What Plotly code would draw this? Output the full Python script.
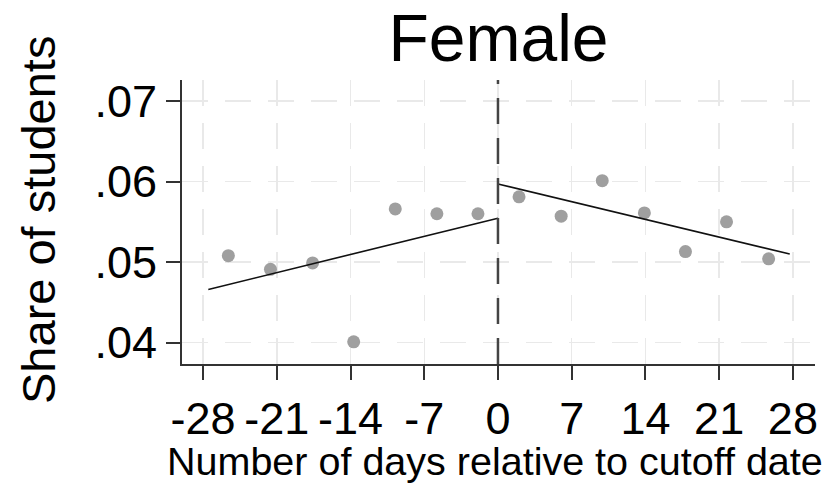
import plotly.graph_objects as go

# ---- data ----
days_left = [-25.6, -21.6, -17.6, -13.7, -9.75, -5.8, -1.9]
share_left = [0.0508, 0.0491, 0.0499, 0.0401, 0.0566, 0.0560, 0.0560]
days_right = [2.0, 6.0, 9.9, 13.9, 17.8, 21.7, 25.7]
share_right = [0.0581, 0.0557, 0.0601, 0.0561, 0.0513, 0.0550, 0.0504]

fit_left_x = [-27.5, 0]
fit_left_y = [0.0466, 0.05545]
fit_right_x = [0, 27.7]
fit_right_y = [0.0597, 0.0510]

cutoff = 0
x_ticks = [-28, -21, -14, -7, 0, 7, 14, 21, 28]
x_ticklabels = ["-28", "-21", "-14", "-7", "0", "7", "14", "21", "28"]
y_ticks = [0.04, 0.05, 0.06, 0.07]
y_ticklabels = [".04", ".05", ".06", ".07"]

FONT = "Liberation Sans, Arial, sans-serif"
MARK = "#9f9f9f"
GRID = "#e9e9e9"
AXIS = "#333333"

fig = go.Figure()
fig.add_trace(go.Scatter(x=days_left + days_right, y=share_left + share_right,
                         mode="markers", marker=dict(color=MARK, size=13, line=dict(width=0)),
                         showlegend=False, hoverinfo="skip"))
fig.add_trace(go.Scatter(x=fit_left_x, y=fit_left_y, mode="lines",
                         line=dict(color="#111111", width=1.6), showlegend=False))
fig.add_trace(go.Scatter(x=fit_right_x, y=fit_right_y, mode="lines",
                         line=dict(color="#111111", width=1.6), showlegend=False))

fig.add_shape(type="line", x0=cutoff, x1=cutoff, y0=0, y1=1, xref="x", yref="paper",
              line=dict(color="#444444", width=2.5, dash="26px,14px"))

fig.update_layout(
    width=834, height=484,
    margin=dict(l=182, r=19, t=80, b=120),
    paper_bgcolor="white", plot_bgcolor="white",
    font=dict(family=FONT, color="black"),
    title=dict(text="Female", x=(182 + 815) / 2 / 834, xanchor="center",
               y=1 - 38 / 484, yanchor="middle", yref="container",
               font=dict(size=66, family=FONT, color="black")),
    xaxis=dict(range=[-30, 30.1], tickvals=x_ticks, ticktext=x_ticklabels,
               showgrid=True, gridcolor=GRID, gridwidth=1.5, griddash="26px,17px",
               zeroline=False, showline=True, linecolor=AXIS, linewidth=2,
               ticks="outside", ticklen=14, tickwidth=2, tickcolor=AXIS,
               tickfont=dict(size=45, family=FONT, color="black")),
    yaxis=dict(range=[0.03735, 0.0726], tickvals=y_ticks, ticktext=y_ticklabels,
               showgrid=True, gridcolor=GRID, gridwidth=1.5, griddash="26px,17px",
               zeroline=False, showline=True, linecolor=AXIS, linewidth=2,
               ticks="outside", ticklen=14, tickwidth=2, tickcolor=AXIS,
               tickfont=dict(size=45, family=FONT, color="black")),
    annotations=[
        dict(text="Share of students", xref="paper", yref="paper",
             x=(38 - 182) / 633, y=(364 - 220) / 284, xanchor="center", yanchor="middle",
             textangle=-90, showarrow=False, font=dict(size=47, family=FONT, color="black")),
        dict(text="Number of days relative to cutoff date", xref="paper", yref="paper",
             x=(495 - 182) / 633, y=(364 - 461) / 284, xanchor="center", yanchor="middle",
             showarrow=False, font=dict(size=39.5, family=FONT, color="black")),
    ],
)

fig.write_html("out.html", config={"displayModeBar": False, "staticPlot": True},
               post_script="document.body.style.margin='0';document.body.style.overflow='hidden';")
